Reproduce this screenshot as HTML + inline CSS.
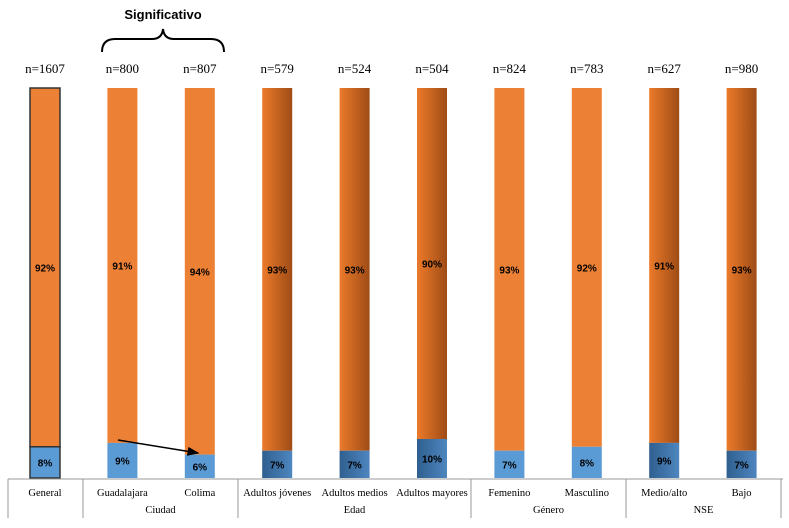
<!DOCTYPE html>
<html><head><meta charset="utf-8"><style>
body{margin:0;background:#fff;width:789px;height:528px;overflow:hidden}
svg{display:block}
</style></head><body>
<svg id="chart" width="789" height="528" viewBox="0 0 789 528" xmlns="http://www.w3.org/2000/svg">
<defs>
<linearGradient id="og" x1="0" x2="1" y1="0" y2="0"><stop offset="0" stop-color="#EC7A2A"/><stop offset="1" stop-color="#9E4C16"/></linearGradient>
<linearGradient id="bg" x1="0" x2="1" y1="0" y2="0"><stop offset="0" stop-color="#2F5F8F"/><stop offset="1" stop-color="#4E86BF"/></linearGradient>
<marker id="ah" markerWidth="8" markerHeight="6" refX="7" refY="3" orient="auto"><path d="M0,0 L8,3 L0,6 z" fill="#000"/></marker>
</defs>
<g id="bars"></g>
<g id="axis" stroke="#999" stroke-width="1"></g>
<text x="163" y="19" text-anchor="middle" font-family="Liberation Sans, sans-serif" font-weight="bold" font-size="13">Significativo</text>
<path d="M102,52 Q102,39 115,39 L152,39 Q162,39 163,29 Q164,39 174,39 L211,39 Q224,39 224,52" fill="none" stroke="#000" stroke-width="2"/>
<line x1="118" y1="440" x2="198" y2="453" stroke="#000" stroke-width="1.5" marker-end="url(#ah)"/>
</svg>
<script>
const categories=["General","Guadalajara","Colima","Adultos jóvenes","Adultos medios","Adultos mayores","Femenino","Masculino","Medio/alto","Bajo"];
const nLabels=["n=1607","n=800","n=807","n=579","n=524","n=504","n=824","n=783","n=627","n=980"];
const orangeVals=[92,91,94,93,93,90,93,92,91,93];
const blueVals=[8,9,6,7,7,10,7,8,9,7];
const groups=["","Ciudad","Ciudad","Edad","Edad","Edad","Género","Género","NSE","NSE"];
const NS="http://www.w3.org/2000/svg";
const bars=document.getElementById('bars');
const axis=document.getElementById('axis');
const x0=45,step=77.4,bw=30,base=478,plotH=390;
const xPos=i=>x0+i*step;
const yScale=v=>v*plotH/100;
const gradIdx=[3,4,5,8,9];
function mk(tag,attrs,parent){const e=document.createElementNS(NS,tag);for(const k in attrs)e.setAttribute(k,attrs[k]);parent.appendChild(e);return e;}
categories.forEach((c,i)=>{
  const cx=xPos(i);const g=gradIdx.includes(i);
  const bh=yScale(blueVals[i]);const oh=yScale(orangeVals[i]);
  const ob=mk('rect',{x:cx-bw/2,y:base-bh-oh,width:bw,height:oh,fill:g?'url(#og)':'#EC8035',stroke:i==0?'#333':'none','stroke-width':i==0?1.5:0},bars);
  
  
  const bb=mk('rect',{x:cx-bw/2,y:base-bh,width:bw,height:bh,fill:g?'url(#bg)':'#5B9BD5',stroke:i==0?'#333':'none','stroke-width':i==0?1.5:0},bars);
  
  
  const t1=mk('text',{x:cx,y:base-bh-oh/2+4,'text-anchor':'middle','font-family':'Liberation Sans, sans-serif','font-weight':'bold','font-size':'10'},bars);
  t1.textContent=orangeVals[i]+'%';
  
  
  const t2=mk('text',{x:cx,y:base-bh/2+4,'text-anchor':'middle','font-family':'Liberation Sans, sans-serif','font-weight':'bold','font-size':'10'},bars);
  t2.textContent=blueVals[i]+'%';
  
  
  const t3=mk('text',{x:cx,y:base-plotH-15,'text-anchor':'middle','font-family':'Liberation Serif, serif','font-size':'13'},bars);
  t3.textContent=nLabels[i];
  
  
  const t4=mk('text',{x:cx,y:base+18,'text-anchor':'middle','font-family':'Liberation Serif, serif','font-size':'10.5'},bars);
  t4.textContent=categories[i];
  
  
});
mk('line',{x1:8,y1:base+1,x2:783,y2:base+1},axis);
const seps=[8,83,238,471,626,781];
seps.forEach(s=>mk('line',{x1:s,y1:base+1,x2:s,y2:518},axis));
const groupNames=["Ciudad","Edad","Género","NSE"];
const spans=[[83,238],[238,471],[471,626],[626,781]];
groupNames.forEach((n,k)=>{
  const t=mk('text',{x:(spans[k][0]+spans[k][1])/2,y:base+35,'text-anchor':'middle','font-family':'Liberation Serif, serif','font-size':'10.5'},bars);
  t.textContent=n;
  
  
});
</script>
</body></html>
